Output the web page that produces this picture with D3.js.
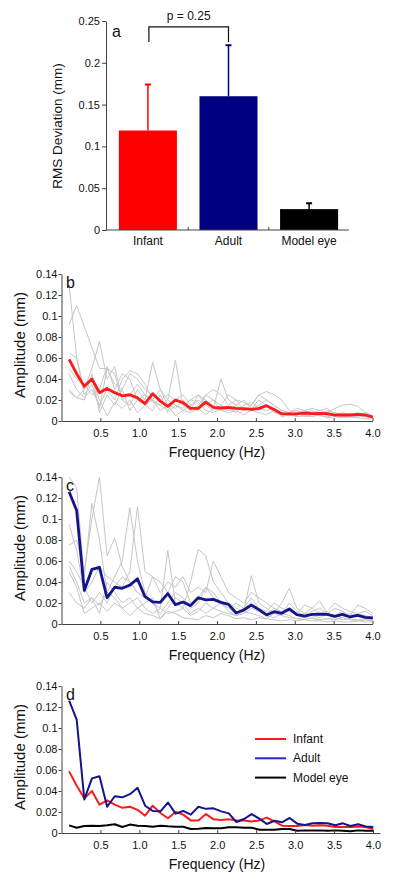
<!DOCTYPE html>
<html><head><meta charset="utf-8">
<script src="https://cdn.jsdelivr.net/npm/d3@7/dist/d3.min.js"></script>
<style>
body{margin:0;background:#fff}
svg{display:block}
text{font-family:"Liberation Sans",Arial,Helvetica,sans-serif;fill:#111}
</style>
</head><body>
<svg id="chart" width="400" height="883"></svg>
<script>
// ---------- Panel a data ----------
const barCategories = ["Infant", "Adult", "Model eye"];
const barValues = [0.119, 0.160, 0.025];
const barErrors = [0.055, 0.061, 0.007];
const barColors = ["#ff0000", "#000080", "#000000"];
const barYTicks = [0, 0.05, 0.1, 0.15, 0.2, 0.25];
const barYTickLabels = ["0", "0.05", "0.1", "0.15", "0.2", "0.25"];
const pLabel = "p = 0.25";
const bracketTop = 0.243, bracketBottom = 0.225;

// ---------- Frequency panels data ----------
const freqs = [0.098,0.195,0.293,0.391,0.488,0.586,0.684,0.781,0.879,0.977,
  1.074,1.172,1.270,1.367,1.465,1.563,1.660,1.758,1.855,1.953,
  2.051,2.148,2.246,2.344,2.441,2.539,2.637,2.734,2.832,2.930,
  3.027,3.125,3.223,3.320,3.418,3.516,3.613,3.711,3.809,3.906,4.004];
const ampTicks = [0, 0.02, 0.04, 0.06, 0.08, 0.1, 0.12, 0.14];
const ampTickLabels = ["0", "0.02", "0.04", "0.06", "0.08", "0.1", "0.12", "0.14"];
const freqTicks = [0.5, 1.0, 1.5, 2.0, 2.5, 3.0, 3.5, 4.0];
const freqTickLabels = ["0.5", "1.0", "1.5", "2.0", "2.5", "3.0", "3.5", "4.0"];

const infantMean = [0.0587,0.045,0.033,0.040,0.027,0.031,0.027,0.024,0.025,0.022,
  0.0165,0.026,0.019,0.014,0.020,0.0175,0.012,0.012,0.018,0.013,
  0.0124,0.013,0.012,0.0118,0.011,0.012,0.0146,0.011,0.007,0.0067,
  0.0067,0.0076,0.007,0.0073,0.007,0.0057,0.0057,0.0057,0.0063,0.0057,0.0038];
const adultMean = [0.126,0.108,0.032,0.052,0.054,0.025,0.035,0.034,0.037,0.043,
  0.026,0.021,0.0206,0.029,0.0184,0.021,0.0175,0.025,0.023,0.0235,
  0.0206,0.0187,0.0105,0.0133,0.018,0.0137,0.0086,0.0117,0.0102,0.0143,
  0.0089,0.0076,0.0092,0.0095,0.0092,0.0073,0.0092,0.0067,0.0083,0.0063,0.0057];
const modelEyeMean = [0.0073,0.005,0.0067,0.007,0.0067,0.0073,0.0083,0.0057,0.008,0.007,
  0.0067,0.006,0.007,0.0064,0.006,0.006,0.0038,0.0041,0.0048,0.0045,
  0.0045,0.0054,0.0054,0.005,0.005,0.0032,0.0032,0.0032,0.0038,0.0038,
  0.0022,0.0025,0.0025,0.0025,0.0022,0.0025,0.0022,0.0016,0.0025,0.0022,0.0022];

const infantSubjects = [
  [0.13,0.06,0.025,0.035,0.012,0.05,0.045,0.02,0.015,0.03,0.02,0.056,0.03,0.015,0.012,0.02,0.01,0.025,0.02,0.012,0.04,0.02,0.015,0.01,0.012,0.02,0.015,0.01,0.008,0.006,0.005,0.01,0.006,0.008,0.005,0.006,0.004,0.005,0.006,0.004,0.003],
  [0.092,0.11,0.09,0.07,0.05,0.05,0.035,0.03,0.045,0.04,0.03,0.025,0.02,0.025,0.02,0.015,0.02,0.025,0.015,0.02,0.015,0.025,0.02,0.018,0.015,0.025,0.028,0.025,0.02,0.01,0.008,0.01,0.012,0.01,0.008,0.012,0.015,0.016,0.014,0.008,0.005],
  [0.065,0.06,0.03,0.05,0.076,0.04,0.052,0.02,0.025,0.035,0.025,0.02,0.015,0.02,0.058,0.015,0.01,0.015,0.025,0.03,0.025,0.015,0.02,0.01,0.012,0.015,0.02,0.015,0.01,0.008,0.01,0.006,0.008,0.01,0.012,0.006,0.005,0.007,0.005,0.006,0.004],
  [0.03,0.022,0.02,0.045,0.008,0.025,0.015,0.03,0.01,0.02,0.015,0.01,0.025,0.008,0.015,0.012,0.02,0.018,0.01,0.008,0.012,0.01,0.015,0.02,0.012,0.01,0.015,0.008,0.006,0.005,0.008,0.004,0.006,0.005,0.004,0.006,0.005,0.004,0.005,0.004,0.003],
  [0.05,0.04,0.035,0.025,0.03,0.052,0.03,0.045,0.04,0.02,0.025,0.018,0.015,0.01,0.02,0.025,0.015,0.01,0.025,0.02,0.01,0.012,0.008,0.015,0.018,0.012,0.01,0.012,0.005,0.008,0.006,0.008,0.01,0.005,0.008,0.005,0.008,0.006,0.004,0.008,0.004],
  [0.028,0.022,0.03,0.04,0.02,0.005,0.018,0.012,0.02,0.008,0.015,0.02,0.01,0.015,0.005,0.01,0.008,0.012,0.006,0.012,0.01,0.008,0.01,0.006,0.01,0.008,0.006,0.01,0.004,0.006,0.004,0.005,0.004,0.006,0.003,0.004,0.003,0.004,0.003,0.002,0.002],
  [0.045,0.03,0.022,0.03,0.015,0.03,0.02,0.04,0.048,0.045,0.035,0.02,0.03,0.02,0.015,0.01,0.015,0.02,0.015,0.01,0.015,0.01,0.012,0.01,0.015,0.025,0.02,0.015,0.01,0.008,0.012,0.01,0.008,0.006,0.01,0.008,0.006,0.005,0.008,0.006,0.005]
];
const adultSubjects = [
  [0.075,0.08,0.05,0.1,0.14,0.065,0.082,0.055,0.04,0.03,0.025,0.045,0.04,0.03,0.045,0.04,0.02,0.025,0.035,0.03,0.02,0.015,0.02,0.015,0.025,0.015,0.01,0.015,0.01,0.02,0.012,0.008,0.012,0.015,0.01,0.008,0.012,0.006,0.01,0.008,0.006],
  [0.14,0.13,0.045,0.115,0.08,0.03,0.045,0.06,0.111,0.06,0.03,0.02,0.015,0.07,0.02,0.015,0.04,0.071,0.065,0.04,0.03,0.02,0.015,0.012,0.046,0.02,0.015,0.01,0.02,0.034,0.015,0.01,0.015,0.022,0.01,0.015,0.012,0.008,0.018,0.015,0.01],
  [0.095,0.07,0.03,0.04,0.055,0.045,0.04,0.035,0.05,0.112,0.05,0.045,0.03,0.04,0.035,0.045,0.03,0.035,0.03,0.06,0.045,0.03,0.025,0.02,0.03,0.025,0.02,0.015,0.012,0.015,0.01,0.018,0.015,0.01,0.012,0.02,0.015,0.012,0.01,0.012,0.008],
  [0.06,0.05,0.035,0.02,0.03,0.02,0.035,0.045,0.04,0.03,0.025,0.02,0.01,0.02,0.03,0.025,0.015,0.02,0.035,0.025,0.02,0.015,0.01,0.015,0.02,0.015,0.012,0.02,0.015,0.012,0.008,0.01,0.008,0.006,0.01,0.008,0.006,0.01,0.008,0.006,0.005],
  [0.05,0.035,0.01,0.015,0.02,0.012,0.02,0.015,0.02,0.025,0.015,0.01,0.015,0.01,0.012,0.015,0.008,0.012,0.02,0.015,0.012,0.01,0.008,0.01,0.015,0.012,0.008,0.006,0.01,0.008,0.005,0.006,0.005,0.004,0.005,0.006,0.004,0.005,0.004,0.004,0.003],
  [0.03,0.02,0.015,0.025,0.018,0.03,0.025,0.015,0.008,0.015,0.01,0.008,0.005,0.012,0.01,0.006,0.005,0.004,0.008,0.006,0.01,0.008,0.005,0.006,0.004,0.006,0.005,0.004,0.003,0.004,0.003,0.004,0.003,0.003,0.002,0.003,0.002,0.002,0.003,0.002,0.002],
  [0.055,0.04,0.02,0.025,0.01,0.04,0.03,0.02,0.025,0.015,0.02,0.025,0.005,0.015,0.025,0.02,0.01,0.015,0.01,0.015,0.02,0.012,0.008,0.012,0.01,0.008,0.005,0.01,0.008,0.006,0.005,0.004,0.006,0.004,0.005,0.004,0.006,0.004,0.003,0.004,0.003]
];
const legendLabels = ["Infant", "Adult", "Model eye"];
const legendColors = ["#ff1a1a", "#2424d8", "#000000"];

// ---------- drawing ----------
const svg = d3.select("#chart");
const AX = "#444";
function styleAxis(g) {
  g.select(".domain").attr("stroke", AX).attr("stroke-width", 1);
  g.selectAll(".tick line").attr("stroke", AX);
  g.selectAll(".tick text").attr("fill", "#222").style("font-size", "11px")
    .style("font-family", '"Liberation Sans",Arial,sans-serif');
}

// Panel a
(function () {
  const x = d3.scaleBand().domain(barCategories).range([106, 351]).paddingInner(0.28).paddingOuter(0.16);
  const y = d3.scaleLinear().domain([0, 0.25]).range([230, 21]);
  const g = svg.append("g");
  g.selectAll("rect.bar").data(barCategories).join("rect")
    .attr("x", d => x(d)).attr("width", x.bandwidth())
    .attr("y", (d, i) => y(barValues[i])).attr("height", (d, i) => y(0) - y(barValues[i]))
    .attr("fill", (d, i) => barColors[i]);
  barCategories.forEach((c, i) => {
    const cx = x(c) + x.bandwidth() / 2;
    g.append("line").attr("x1", cx).attr("x2", cx)
      .attr("y1", y(barValues[i])).attr("y2", y(barValues[i] + barErrors[i]))
      .attr("stroke", barColors[i]).attr("stroke-width", 1.5);
    g.append("line").attr("x1", cx - 3).attr("x2", cx + 3)
      .attr("y1", y(barValues[i] + barErrors[i])).attr("y2", y(barValues[i] + barErrors[i]))
      .attr("stroke", barColors[i]).attr("stroke-width", 2);
  });
  const ya = g.append("g").attr("transform", "translate(106,0)")
    .call(d3.axisLeft(y).tickValues(barYTicks).tickFormat((d, i) => barYTickLabels[i]).tickSize(4).tickSizeOuter(0).tickPadding(2));
  styleAxis(ya);
  g.append("line").attr("x1", 106).attr("x2", x.range()[1] - 2).attr("y1", y(0)).attr("y2", y(0))
    .attr("stroke", AX).attr("stroke-width", 1);
  const step = x.step();
  barCategories.slice(1).forEach(c => {
    const tx = x(c) - (step - x.bandwidth()) / 2;
    g.append("line").attr("x1", tx).attr("x2", tx).attr("y1", y(0)).attr("y2", y(0) - 3)
      .attr("stroke", AX);
  });
  g.selectAll("text.cat").data(barCategories).join("text")
    .attr("x", d => x(d) + x.bandwidth() / 2).attr("y", 245)
    .attr("text-anchor", "middle").style("font-size", "12px").text(d => d);
  g.append("text").attr("transform", "translate(62,126) rotate(-90)")
    .attr("text-anchor", "middle").style("font-size", "13.5px").text("RMS Deviation (mm)");
  g.append("text").attr("x", 112).attr("y", 37).style("font-size", "16px").text("a");
  const bx1 = x("Infant") + x.bandwidth() / 2 + 1, bx2 = x("Adult") + x.bandwidth() / 2;
  g.append("path")
    .attr("d", `M${bx1},${y(bracketBottom)}V${y(bracketTop)}H${bx2}V${y(bracketBottom)}`)
    .attr("fill", "none").attr("stroke", "#111").attr("stroke-width", 1.2);
  g.append("text").attr("x", (bx1 + bx2) / 2).attr("y", 20).attr("text-anchor", "middle")
    .style("font-size", "12px").text(pLabel);
})();

function linePanel(opt) {
  const x = d3.scaleLinear().domain([0, opt.xMax]).range([61.5, opt.xRight]);
  const y = d3.scaleLinear().domain([0, 0.14]).range([opt.y0, opt.y0 - 147]);
  const g = svg.append("g");
  const clipId = "clip" + opt.id;
  g.append("clipPath").attr("id", clipId).append("rect")
    .attr("x", 61).attr("y", y(0.14) - 1).attr("width", opt.xRight - 60).attr("height", y(0) - y(0.14) + 1);
  const line = d3.line().x((d, i) => x(freqs[i])).y(d => y(d));
  const pg = g.append("g").attr("clip-path", `url(#${clipId})`);
  (opt.subjects || []).forEach(s => {
    pg.append("path").attr("d", line(s)).attr("fill", "none")
      .attr("stroke", "#c6c6c6").attr("stroke-width", 1);
  });
  opt.series.forEach(s => {
    pg.append("path").attr("d", line(s.values)).attr("fill", "none")
      .attr("stroke", s.color).attr("stroke-width", s.width).attr("stroke-linejoin", "round");
  });
  const ya = g.append("g").attr("transform", "translate(61.5,0)")
    .call(d3.axisLeft(y).tickValues(ampTicks).tickFormat((d, i) => ampTickLabels[i]).tickSize(3).tickSizeOuter(0).tickPadding(1));
  styleAxis(ya);
  const xa = g.append("g").attr("transform", `translate(0,${opt.y0})`)
    .call(d3.axisBottom(x).tickValues(freqTicks).tickFormat((d, i) => freqTickLabels[i]).tickSizeInner(-3).tickSizeOuter(0).tickPadding(8));
  styleAxis(xa);
  g.append("text").attr("x", 217).attr("y", opt.y0 + 36).attr("text-anchor", "middle")
    .style("font-size", "14px").text("Frequency (Hz)");
  g.append("text").attr("transform", `translate(25,${opt.y0 - 76}) rotate(-90)`)
    .attr("text-anchor", "middle").style("font-size", "15px").text("Amplitude (mm)");
  g.append("text").attr("x", 66).attr("y", opt.y0 - 133).style("font-size", "16px").text(opt.label);
  return g;
}

linePanel({ id: "b", y0: 421, xMax: 4, xRight: 372.5, label: "b", subjects: infantSubjects,
  series: [{ values: infantMean, color: "#ff1a1a", width: 2.8 }] });
linePanel({ id: "c", y0: 624, xMax: 4, xRight: 372.5, label: "c", subjects: adultSubjects,
  series: [{ values: adultMean, color: "#14148c", width: 2.8 }] });
const gd = linePanel({ id: "d", y0: 833, xMax: 4.09, xRight: 380, label: "d", subjects: [],
  series: [
    { values: modelEyeMean, color: "#000000", width: 2 },
    { values: infantMean, color: "#ff1a1a", width: 2 },
    { values: adultMean, color: "#14148c", width: 2 }
  ] });
legendLabels.forEach((l, i) => {
  const ly = 739 + i * 19.3;
  gd.append("line").attr("x1", 255).attr("x2", 286).attr("y1", ly).attr("y2", ly)
    .attr("stroke", legendColors[i]).attr("stroke-width", 2);
  gd.append("text").attr("x", 293).attr("y", ly + 4).style("font-size", "12px").text(l);
});
</script>
</body></html>
